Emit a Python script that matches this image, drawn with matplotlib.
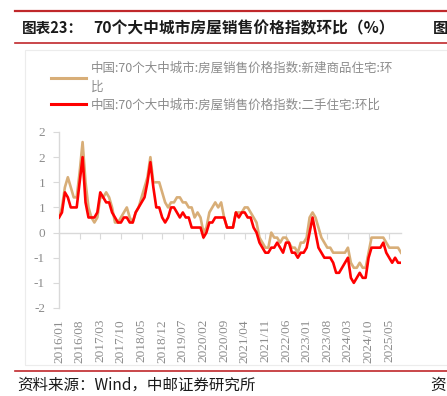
import matplotlib
matplotlib.use("Agg")
import matplotlib.pyplot as plt
import numpy as np
from matplotlib.lines import Line2D
from matplotlib.patches import Rectangle

# ---------------- data ----------------
series_new_name = "中国:70个大中城市:房屋销售价格指数:新建商品住宅:环\n比"
series_old_name = "中国:70个大中城市:房屋销售价格指数:二手住宅:环比"

new_home = [0.3, 0.5, 0.9, 1.1, 0.9, 0.7, 0.7, 1.2, 1.8, 1.0,
            0.5, 0.3, 0.2, 0.3, 0.7, 0.7, 0.8, 0.7, 0.5, 0.2,
            0.2, 0.3, 0.4, 0.5, 0.3, 0.2, 0.4, 0.5, 0.7, 0.9,
            1.1, 1.5, 1.0, 1.0, 1.0, 0.8, 0.6, 0.5, 0.6, 0.6,
            0.7, 0.7, 0.6, 0.6, 0.5, 0.5, 0.3, 0.4, 0.3, 0.0,
            0.1, 0.4, 0.5, 0.6, 0.5, 0.6, 0.3, 0.1, 0.1, 0.1,
            0.4, 0.4, 0.4, 0.5, 0.5, 0.4, 0.3, 0.2, -0.1, -0.2,
            -0.3, -0.3, 0.0, -0.1, -0.1, -0.2, -0.1, -0.1, -0.2, -0.3,
            -0.3, -0.4, -0.2, -0.2, -0.1, 0.3, 0.4, 0.3, 0.1, -0.1,
            -0.2, -0.3, -0.3, -0.4, -0.4, -0.4, -0.4, -0.4, -0.3, -0.6,
            -0.7, -0.7, -0.6, -0.7, -0.7, -0.4, -0.1, -0.1, -0.1, -0.1,
            -0.1, -0.2, -0.3, -0.3, -0.3, -0.3, -0.4]

second_hand = [0.3, 0.4, 0.8, 0.7, 0.5, 0.5, 0.5, 1.0, 1.5, 0.6,
               0.3, 0.3, 0.3, 0.4, 0.8, 0.7, 0.6, 0.6, 0.4, 0.3,
               0.2, 0.2, 0.3, 0.3, 0.2, 0.2, 0.4, 0.5, 0.6, 0.7,
               1.0, 1.4, 0.9, 0.5, 0.5, 0.3, 0.2, 0.3, 0.5, 0.5,
               0.4, 0.3, 0.4, 0.3, 0.3, 0.1, 0.1, 0.1, 0.1, -0.1,
               0.0, 0.2, 0.2, 0.3, 0.3, 0.3, 0.3, 0.1, 0.1, 0.1,
               0.4, 0.3, 0.4, 0.4, 0.3, 0.3, 0.1, 0.0, -0.2, -0.3,
               -0.4, -0.4, -0.3, -0.3, -0.2, -0.3, -0.4, -0.2, -0.2, -0.4,
               -0.4, -0.5, -0.4, -0.4, -0.3, 0.0, 0.3, 0.0, -0.3, -0.4,
               -0.5, -0.5, -0.5, -0.6, -0.8, -0.8, -0.7, -0.6, -0.5, -0.9,
               -1.0, -0.9, -0.8, -0.9, -0.9, -0.5, -0.3, -0.3, -0.3, -0.3,
               -0.2, -0.4, -0.5, -0.6, -0.5, -0.6, -0.6]

xtick_labels = ['2016/01', '2016/08', '2017/03', '2017/10', '2018/05', '2018/12',
                '2019/07', '2020/02', '2020/09', '2021/04', '2021/11', '2022/06',
                '2023/01', '2023/08', '2024/03', '2024/10', '2025/05']
ytick_values = [-1.5, -1.0, -0.5, 0.0, 0.5, 1.0, 1.5, 2.0]
ytick_labels = ['-2', '-1', '-1', '0', '1', '1', '2', '2']

title_prefix = "图表23："
title_text = "70个大中城市房屋销售价格指数环比（%）"
source_text = "资料来源：Wind，中邮证券研究所"

# ---------------- style ----------------
CJK = ['Noto Sans CJK SC', 'DejaVu Sans']
plt.rcParams['font.family'] = CJK
W, H = 447, 396
fig = plt.figure(figsize=(W / 100, H / 100), dpi=100)

def fx(px):
    return px / W

def fy(py):
    return 1 - py / H

gray_text = '#8c8c8c'
axis_gray = '#d9d9d9'
tan = '#D8AE78'
red = '#FF0000'
rule_red = '#C0282B'

# frame
fig.add_artist(Rectangle((fx(25), fy(365)), fx(460) - fx(25), fy(50) - fy(365),
                         transform=fig.transFigure, fill=False,
                         edgecolor='#ececec', lw=0.8))

# rules
for yy, lw in [(11, 1.6), (43, 1.2), (371, 1.2)]:
    fig.add_artist(Line2D([fx(15), 1.0], [fy(yy), fy(yy)], transform=fig.transFigure,
                          color=rule_red, lw=lw))

# title
fig.text(fx(22), fy(28), title_prefix, fontsize=10.5, fontweight='bold',
         color='#1a1a1a', va='center', ha='left')
fig.text(fx(93), fy(28), title_text, fontsize=11.3, fontweight='bold',
         color='#1a1a1a', va='center', ha='left')
fig.text(fx(433), fy(28), "图", fontsize=11, fontweight='bold',
         color='#1a1a1a', va='center', ha='left')

# source
fig.text(fx(17), fy(385), source_text, fontsize=11.2, color='#1a1a1a',
         va='center', ha='left')
fig.text(fx(430), fy(385), "资", fontsize=11.2, color='#1a1a1a',
         va='center', ha='left')

# ---------------- axes ----------------
ax = fig.add_axes([fx(59), fy(308), fx(401) - fx(59), fy(132) - fy(308)])
x = np.arange(len(new_home))
l1, = ax.plot(x, new_home, color=tan, lw=1.9, solid_joinstyle='round', zorder=3)
l2, = ax.plot(x, second_hand, color=red, lw=1.9, solid_joinstyle='round', zorder=4)

ax.set_xlim(0, len(new_home) - 1)
ax.set_ylim(-1.5, 2.0)

for s in ['top', 'right']:
    ax.spines[s].set_visible(False)
ax.spines['left'].set_color(axis_gray)
ax.spines['bottom'].set_color(axis_gray)
ax.spines['bottom'].set_position(('data', 0))
ax.spines['left'].set_linewidth(1.0)
ax.spines['bottom'].set_linewidth(1.0)

xticks = np.arange(0, len(new_home), 7)[:len(xtick_labels)]
ax.set_xticks(xticks)
ax.tick_params(axis='x', direction='out', length=4, color=axis_gray,
               labelbottom=False)
ax.set_yticks(ytick_values)
ax.set_yticklabels(ytick_labels, family='Liberation Serif', fontsize=9.5,
                   color=gray_text)
ax.tick_params(axis='y', direction='out', length=4, color=axis_gray, pad=6)

sec = ax.secondary_xaxis('bottom')
sec.set_xticks(xticks)
sec.set_xticklabels(xtick_labels, rotation=90, family='Liberation Serif',
                    fontsize=9.5, color=gray_text)
sec.tick_params(length=0, pad=8)
sec.spines['bottom'].set_visible(False)

leg = fig.legend([l1, l2], [series_new_name, series_old_name],
                 loc='upper left', bbox_to_anchor=(fx(46), fy(57)),
                 frameon=False, fontsize=9.0, handlelength=2.8,
                 handletextpad=0.4, labelspacing=0.4, borderaxespad=0)
for t in leg.get_texts():
    t.set_color(gray_text)
    t.set_linespacing(1.55)
for h in leg.legend_handles:
    h.set_linewidth(2.2)

fig.savefig('out.png', dpi=100)
